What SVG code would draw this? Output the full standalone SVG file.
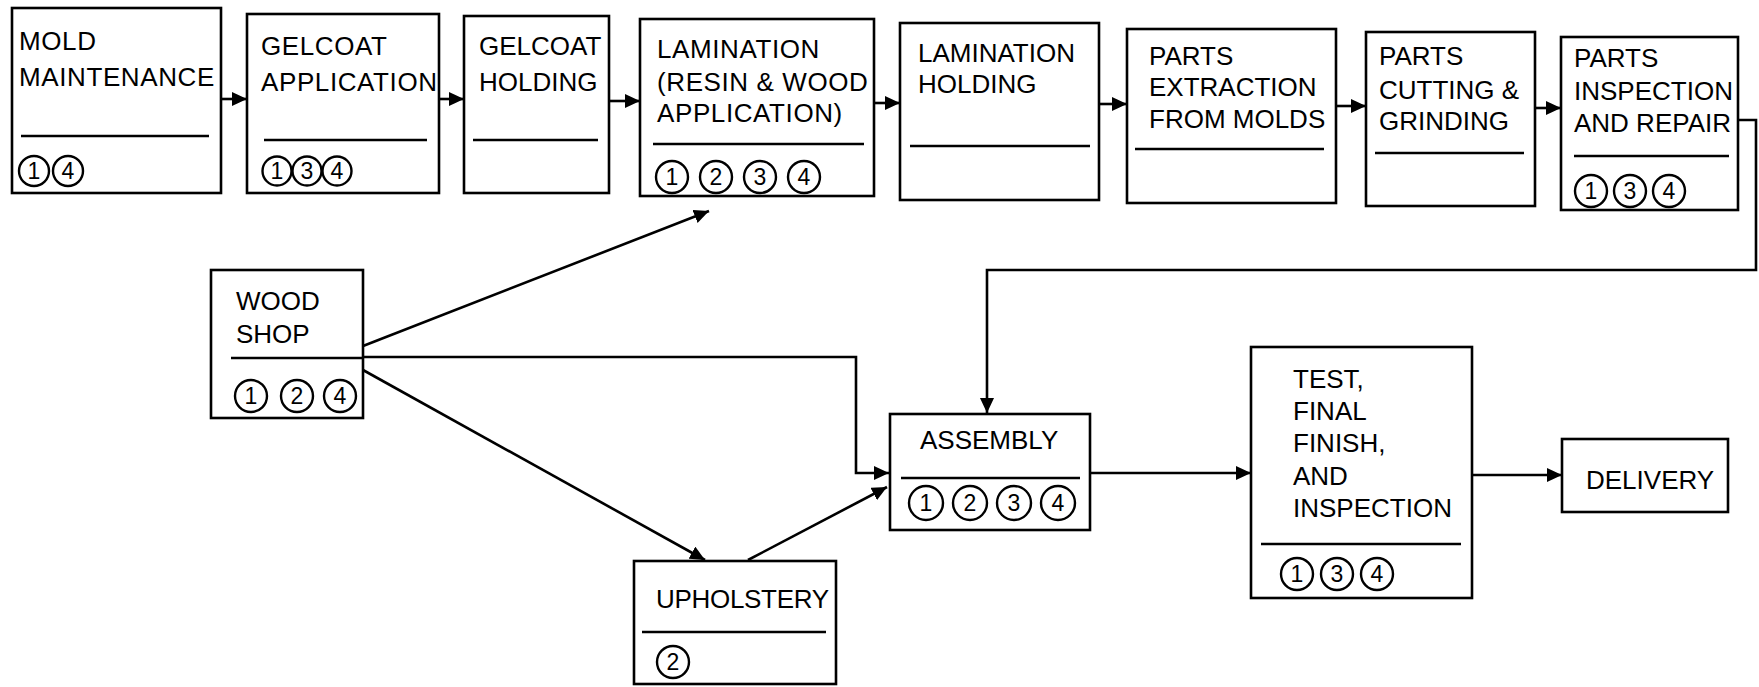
<svg xmlns="http://www.w3.org/2000/svg" width="1759" height="687" viewBox="0 0 1759 687">
<style>
.box{fill:#fff;stroke:#000;stroke-width:2.6}
.div{stroke:#000;stroke-width:2.6}
.lbl{font-family:"Liberation Sans",Arial,sans-serif;font-size:26px;fill:#000}
.wide{letter-spacing:0.6px}
.num{font-family:"Liberation Sans",Arial,sans-serif;font-size:23px;fill:#000;text-anchor:middle}
.cir{fill:none;stroke:#000;stroke-width:2.4}
.con{fill:none;stroke:#000;stroke-width:2.6;marker-end:url(#ah)}
</style>
<defs>
<marker id="ah" markerUnits="userSpaceOnUse" markerWidth="16" markerHeight="14" refX="15" refY="7" orient="auto">
<path d="M0,0 L15,7 L0,14 z" fill="#000"/>
</marker>
</defs>
<rect width="1759" height="687" fill="#fff"/>

<g id="connectors">
<line class="con" x1="221" y1="99" x2="247" y2="99"/>
<line class="con" x1="439" y1="99" x2="464" y2="99"/>
<line class="con" x1="609" y1="101" x2="640" y2="101"/>
<line class="con" x1="874" y1="103" x2="900" y2="103"/>
<line class="con" x1="1099" y1="104" x2="1127" y2="104"/>
<line class="con" x1="1336" y1="106" x2="1366" y2="106"/>
<line class="con" x1="1535" y1="108" x2="1561" y2="108"/>
<path class="con" d="M1738,120 H1756 V270 H987 V413"/>
<path class="con" d="M363,346 L709,211"/>
<path class="con" d="M363,357 H856 V473 H889"/>
<path class="con" d="M363,370 L705,560"/>
<path class="con" d="M748,560 L887,487"/>
<path class="con" d="M1090,473 H1251"/>
<path class="con" d="M1472,475 H1562"/>
</g>

<g id="mold-maintenance">
<rect class="box" x="12" y="8" width="209" height="185"/>
<text class="lbl wide"><tspan x="19" y="50">MOLD</tspan><tspan x="19" y="86">MAINTENANCE</tspan></text>
<line class="div" x1="21" y1="136" x2="209" y2="136"/>
<circle class="cir" cx="34" cy="171" r="15"/><text class="num" x="34" y="179">1</text>
<circle class="cir" cx="68" cy="171" r="15"/><text class="num" x="68" y="179">4</text>
</g>

<g id="gelcoat-application">
<rect class="box" x="247" y="14" width="192" height="179"/>
<text class="lbl wide"><tspan x="261" y="55">GELCOAT</tspan><tspan x="261" y="91">APPLICATION</tspan></text>
<line class="div" x1="264" y1="140" x2="427" y2="140"/>
<circle class="cir" cx="277" cy="171" r="14.5"/><text class="num" x="277" y="179">1</text>
<circle class="cir" cx="307" cy="171" r="14.5"/><text class="num" x="307" y="179">3</text>
<circle class="cir" cx="337" cy="171" r="14.5"/><text class="num" x="337" y="179">4</text>
</g>

<g id="gelcoat-holding">
<rect class="box" x="464" y="16" width="145" height="177"/>
<text class="lbl"><tspan x="479" y="55">GELCOAT</tspan><tspan x="479" y="91">HOLDING</tspan></text>
<line class="div" x1="473" y1="140" x2="598" y2="140"/>
</g>

<g id="lamination">
<rect class="box" x="640" y="19" width="234" height="177"/>
<text class="lbl wide"><tspan x="657" y="58">LAMINATION</tspan><tspan x="657" y="91">(RESIN &amp; WOOD</tspan><tspan x="657" y="122">APPLICATION)</tspan></text>
<line class="div" x1="653" y1="144" x2="864" y2="144"/>
<circle class="cir" cx="672" cy="177" r="16"/><text class="num" x="672" y="185">1</text>
<circle class="cir" cx="716" cy="177" r="16"/><text class="num" x="716" y="185">2</text>
<circle class="cir" cx="760" cy="177" r="16"/><text class="num" x="760" y="185">3</text>
<circle class="cir" cx="804" cy="177" r="16"/><text class="num" x="804" y="185">4</text>
</g>

<g id="lamination-holding">
<rect class="box" x="900" y="23" width="199" height="177"/>
<text class="lbl"><tspan x="918" y="62">LAMINATION</tspan><tspan x="918" y="93">HOLDING</tspan></text>
<line class="div" x1="910" y1="146" x2="1090" y2="146"/>
</g>

<g id="parts-extraction">
<rect class="box" x="1127" y="29" width="209" height="174"/>
<text class="lbl"><tspan x="1149" y="65">PARTS</tspan><tspan x="1149" y="96">EXTRACTION</tspan><tspan x="1149" y="128">FROM MOLDS</tspan></text>
<line class="div" x1="1135" y1="149" x2="1324" y2="149"/>
</g>

<g id="parts-cutting">
<rect class="box" x="1366" y="32" width="169" height="174"/>
<text class="lbl"><tspan x="1379" y="65">PARTS</tspan><tspan x="1379" y="99">CUTTING &amp;</tspan><tspan x="1379" y="130">GRINDING</tspan></text>
<line class="div" x1="1375" y1="153" x2="1524" y2="153"/>
</g>

<g id="parts-inspection">
<rect class="box" x="1561" y="37" width="177" height="173"/>
<text class="lbl"><tspan x="1574" y="67">PARTS</tspan><tspan x="1574" y="100">INSPECTION</tspan><tspan x="1574" y="132">AND REPAIR</tspan></text>
<line class="div" x1="1574" y1="156" x2="1729" y2="156"/>
<circle class="cir" cx="1591" cy="191" r="16"/><text class="num" x="1591" y="199">1</text>
<circle class="cir" cx="1630" cy="191" r="16"/><text class="num" x="1630" y="199">3</text>
<circle class="cir" cx="1669" cy="191" r="16"/><text class="num" x="1669" y="199">4</text>
</g>

<g id="wood-shop">
<rect class="box" x="211" y="270" width="152" height="148"/>
<text class="lbl"><tspan x="236" y="310">WOOD</tspan><tspan x="236" y="343">SHOP</tspan></text>
<line class="div" x1="231" y1="358" x2="363" y2="358"/>
<circle class="cir" cx="251" cy="396" r="16"/><text class="num" x="251" y="404">1</text>
<circle class="cir" cx="297" cy="396" r="16"/><text class="num" x="297" y="404">2</text>
<circle class="cir" cx="340" cy="396" r="16"/><text class="num" x="340" y="404">4</text>
</g>

<g id="upholstery">
<rect class="box" x="634" y="561" width="202" height="123"/>
<text class="lbl" x="656" y="608" style="letter-spacing:-0.3px">UPHOLSTERY</text>
<line class="div" x1="642" y1="632" x2="826" y2="632"/>
<circle class="cir" cx="673" cy="662" r="16"/><text class="num" x="673" y="670">2</text>
</g>

<g id="assembly">
<rect class="box" x="890" y="414" width="200" height="116"/>
<text class="lbl" x="920" y="449">ASSEMBLY</text>
<line class="div" x1="901" y1="478" x2="1080" y2="478"/>
<circle class="cir" cx="926" cy="503" r="17"/><text class="num" x="926" y="511">1</text>
<circle class="cir" cx="970" cy="503" r="17"/><text class="num" x="970" y="511">2</text>
<circle class="cir" cx="1014" cy="503" r="17"/><text class="num" x="1014" y="511">3</text>
<circle class="cir" cx="1058" cy="503" r="17"/><text class="num" x="1058" y="511">4</text>
</g>

<g id="test-final-finish">
<rect class="box" x="1251" y="347" width="221" height="251"/>
<text class="lbl"><tspan x="1293" y="388">TEST,</tspan><tspan x="1293" y="420">FINAL</tspan><tspan x="1293" y="452">FINISH,</tspan><tspan x="1293" y="485">AND</tspan><tspan x="1293" y="517">INSPECTION</tspan></text>
<line class="div" x1="1261" y1="544" x2="1461" y2="544"/>
<circle class="cir" cx="1297" cy="574" r="16"/><text class="num" x="1297" y="582">1</text>
<circle class="cir" cx="1337" cy="574" r="16"/><text class="num" x="1337" y="582">3</text>
<circle class="cir" cx="1377" cy="574" r="16"/><text class="num" x="1377" y="582">4</text>
</g>

<g id="delivery">
<rect class="box" x="1562" y="439" width="166" height="73"/>
<text class="lbl" x="1586" y="489">DELIVERY</text>
</g>
</svg>
